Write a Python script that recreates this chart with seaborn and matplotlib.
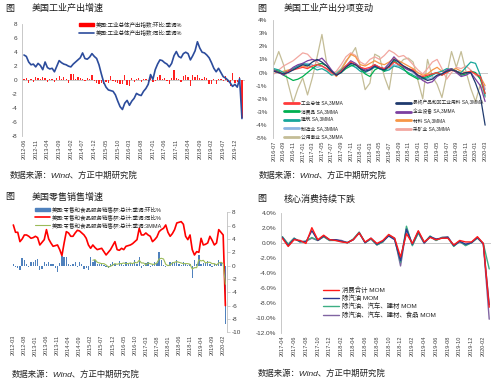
import numpy as np
import pandas as pd
import seaborn as sns
import matplotlib.pyplot as plt
from matplotlib.lines import Line2D
from matplotlib.patches import Patch

sns.set_style('white')
plt.rcParams['font.family'] = ['Liberation Sans', 'Noto Sans CJK SC']
plt.rcParams['axes.unicode_minus'] = False

### panel 1: industrial production, 2012-06 .. 2020-03
ip_start = '2012-06'
ip_mom = [0.1, 0.3, -0.4, 0.2, -0.2, 0.4, 0.3,
          0.1, 0.4, 0.3, -0.3, 0.1, 0.2, -0.2, 0.3, 0.6, 0.2, 0.5, 0.2,
          -0.4, 0.9, 0.9, 0.1, 0.4, 0.3, 0.2, -0.1, 0.3, 0.1, 0.8, -0.1,
          -0.4, -0.5, -0.4, -0.5, -0.3, -0.4, 0.6, -0.1, -0.3, -0.4, -0.6, -0.6,
          0.8, -0.7, -0.8, 0.3, -0.3, 0.2, 0.3, -0.2, 0.1, 0.1, -0.3, 0.8,
          -0.3, -0.1, 0.4, 0.8, 0.1, 0.3, -0.1, -0.6, 0.3, 1.4, 0.3, 0.2,
          -0.2, 0.6, 0.8, 0.5, -0.8, 0.8, 0.4, 0.7, 0.3, 0.2, 0.5, 0.3,
          -0.5, -0.5, 0.1, -0.6, 0.2, 0.1, -0.1, 0.6, -0.3, -0.8, 1.0, -0.4,
          -0.3, 0.5, -5.4]
ip_yoy = [3.6, 3.4, 2.6, 2.2, 2.3, 1.9, 2.4,
          2.1, 1.5, 2.6, 1.8, 1.6, 1.7, 1.2, 2.0, 2.8, 2.5, 2.3, 2.2,
          2.0, 1.9, 2.3, 2.6, 2.9, 3.2, 3.9, 3.1, 3.0, 3.3, 3.8, 3.4,
          3.1, 2.2, 0.9, -0.3, -1.0, -1.4, -1.5, -1.6, -2.1, -3.0, -3.8, -4.2,
          -3.3, -2.9, -3.6, -3.0, -2.6, -1.9, -2.1, -2.2, -1.6, -1.2, -0.6, 0.8,
          0.1, 1.5, 2.3, 2.9, 2.8, 2.5, 2.3, 1.9, 2.4, 3.5, 4.1, 3.4,
          3.2, 3.8, 4.0, 3.8, 2.9, 3.5, 4.2, 5.5, 4.6, 4.0, 3.9, 3.6,
          3.2, 2.5, 1.7, 1.2, 1.7, 1.1, 0.5, 0.3, 0.0, -0.4, -0.9, -0.6,
          -1.0, 0.2, -5.5]

### panel 2: industrial production components, SA 3MMA, 2016-07 .. 2020-03
comp_start = '2016-07'
comp_names = ['工业总体 SA,3MMA', '消费品 SA,3MMA', '建筑 SA,3MMA', '制造业 SA,3MMA',
              '公用事业 SA,3MMA', '最终产品和非工业用料 SA,3MMA', '企业设备 SA,3MMA',
              '材料 SA,3MMA', '采矿业 SA,3MMA']
comp_total = [0.1, 0.0, -0.1, 0.1, 0.2, 0.3, 0.4, 0.3, 0.5, 0.6, 0.5, 0.3, 0.0, -0.2, 0.1,
              0.5, 0.8, 0.6, 0.4, 0.3, 0.4, 0.6, 0.4, 0.3, 0.4, 0.8, 0.6, 0.5, 0.3, 0.2,
              -0.2, -0.3, -0.2, -0.1, 0.0, -0.2, 0.0, 0.2, 0.1, -0.1, 0.0, 0.1, -0.1, -0.3, -1.6]
comp_consumer = [0.2, 0.1, -0.2, -0.4, -0.6, -0.5, -0.3, 0.0, 0.3, 0.6, 0.7, 0.5, 0.1, -0.2, 0.0,
                 0.3, 0.5, 0.6, 0.3, -0.1, -0.3, 0.2, 0.4, 0.1, 0.5, 0.9, 0.6, 0.3, -0.1, -0.3,
                 -0.5, -0.4, -0.3, -0.1, 0.0, -0.2, 0.1, 0.3, 0.1, -0.2, -0.1, 0.1, 0.0, -0.5, -1.6]
comp_construction = [0.3, 0.2, 0.0, 0.1, 0.3, 0.5, 0.7, 0.6, 0.4, 0.2, 0.3, 0.1, -0.2, -0.1, 0.2,
                     0.5, 0.6, 0.4, 0.1, 0.0, 0.2, 0.4, 0.3, 0.1, 0.2, 0.5, 0.4, 0.2, 0.0, -0.2,
                     -0.4, -0.5, -0.4, -0.2, 0.0, 0.1, 0.3, 0.2, 0.1, 0.0, 0.4, 0.8, 0.7, -0.2, -1.8]
comp_manufacturing = [0.1, 0.0, -0.1, 0.1, 0.3, 0.5, 0.6, 0.7, 0.6, 0.4, 0.5, 0.3, 0.0, -0.2, 0.1,
                      0.4, 0.6, 0.4, 0.3, 0.1, 0.3, 0.5, 0.3, 0.2, 0.3, 0.6, 0.5, 0.4, 0.2, 0.0,
                      -0.3, -0.4, -0.5, -0.4, -0.2, -0.1, 0.0, 0.2, 0.1, -0.2, -0.1, 0.1, 0.0, -0.4, -1.3]
comp_utilities = [0.6, 1.6, 0.6, -0.9, -2.3, -1.2, -0.4, -1.7, -0.4, 1.2, 2.9, 0.7, -0.1, 0.0, 0.3,
                  0.9, 1.3, 1.9, 0.4, -1.3, -0.8, 1.4, 1.2, -0.3, -1.3, 1.0, 0.6, 1.0, 1.1, 0.8,
                  -0.6, -2.0, 1.0, -0.3, -0.9, -1.9, -0.2, 1.6, 0.4, 1.6, 0.1, -1.2, -2.2, -0.9, -1.9]
comp_final = [0.1, 0.0, -0.1, 0.0, 0.2, 0.4, 0.6, 0.5, 0.8, 1.0, 0.8, 0.5, 0.1, -0.2, 0.0,
              0.4, 0.7, 0.6, 0.3, 0.1, 0.2, 0.5, 0.3, 0.2, 0.5, 1.0, 0.8, 0.5, 0.3, 0.1,
              -0.2, -0.4, -0.6, -0.5, -0.2, -0.1, 0.1, 0.2, 0.1, -0.1, 0.0, 0.0, -0.8, -1.8, -4.0]
comp_equipment = [0.2, 0.0, -0.2, 0.1, 0.4, 0.6, 0.7, 0.9, 1.0, 0.9, 1.1, 0.7, 0.2, -0.2, 0.1,
                  0.5, 0.9, 0.7, 0.4, 0.2, 0.3, 0.6, 0.4, 0.3, 0.7, 1.2, 0.8, 0.4, 0.2, 0.1,
                  -0.3, -0.6, -0.8, -0.7, -0.3, -0.1, 0.2, 0.3, 0.0, -0.3, -0.2, 0.0, -0.5, -1.0, -2.2]
comp_materials = [0.1, 0.0, 0.1, 0.2, 0.3, 0.4, 0.5, 0.4, 0.5, 0.6, 0.7, 0.5, 0.1, -0.3, 0.2,
                  0.8, 1.4, 1.2, 0.6, 0.5, 0.7, 0.9, 0.7, 0.6, 0.8, 1.1, 0.9, 0.7, 0.5, 0.3,
                  0.0, -0.2, -0.1, 0.2, 0.4, 0.1, 0.0, 0.2, 0.3, 0.1, 0.0, 0.1, -0.1, -0.3, -1.0]
comp_mining = [-0.1, 0.2, 0.5, 0.7, 0.9, 1.2, 1.5, 1.4, 1.0, 0.8, 0.5, 0.2, -0.1, 0.1, 0.6,
               1.2, 1.5, 1.3, 0.8, 0.6, 1.0, 1.2, 1.0, 1.3, 1.7, 1.5, 1.2, 1.3, 1.0, 0.6,
               0.2, -0.1, 0.3, 0.8, 1.0, 0.3, -0.5, 0.0, 0.4, 0.3, 0.5, 0.2, -0.2, -0.4, -1.2]
comp_colors = ['#FF3B3B', '#00B050', '#17A69A', '#8DB4E2', '#C4BD97',
               '#1F3A6E', '#7B3FA0', '#F79646', '#F2A7A0']

### panel 3: retail sales, 2012-03 .. 2020-03
rs_start = '2012-03'
rs_mom = [0.3, -0.2, -0.3, -0.7, 1.2, 0.8, 0.3, -0.2, 0.6, 0.5,
          0.9, 1.0, -0.6, -0.5, 0.5, 0.3, 0.6, 0.3, 0.2, -0.4,
          -0.9, 0.4, 1.5, 1.3, 1.3, 0.2, 0.1, 0.3, 0.5, -0.2,
          0.6, 0.3, -0.5, -0.4, -0.7, 1.3, 0.6, 0.8, 0.2, 0.3,
          0.4, 0.1, -0.2, -0.4, 0.3, 0.5, 0.2, -0.1, 0.7, 0.3,
          0.1, 0.5, 0.2, 0.4, 0.2, 0.8, 0.2, 1.3, -0.3, 0.1,
          0.4, 0.6, -0.2, 0.3, 0.5, 0.4, 2.0, 0.8, 0.1, -0.2,
          0.1, 0.5, 0.6, 0.4, 0.9, 0.2, 0.1, 0.6, 0.3, 0.1,
          0.2, -1.9, 0.8, 0.2, 1.6, 0.3, 0.4, 0.4, 0.7, 0.3,
          -0.2, 0.3, 0.2, 0.8, 0.6, -0.4, -8.7]
rs_yoy = [6.1, 5.0, 5.0, 3.6, 4.0, 4.6, 4.6, 4.4, 4.1, 4.2,
          4.4, 4.2, 3.1, 3.5, 3.9, 5.4, 4.0, 3.4, 2.9, 3.0,
          3.1, 2.4, 1.5, 3.4, 5.1, 4.9, 4.4, 4.4, 4.9, 5.3,
          5.2, 4.9, 4.6, 4.1, 3.1, 2.6, 3.1, 2.7, 2.4, 2.5,
          2.6, 2.1, 1.6, 2.0, 2.4, 3.0, 3.6, 2.4, 2.3, 2.6,
          2.4, 2.9, 3.0, 3.1, 3.3, 3.6, 3.9, 5.6, 4.6, 4.6,
          4.9, 4.6, 4.4, 3.6, 3.9, 4.3, 5.1, 5.4, 5.6, 6.1,
          5.0, 4.4, 4.8, 5.4, 6.4, 6.5, 6.6, 6.2, 4.4, 3.9,
          4.6, 2.4, 1.6, 2.1, 2.0, 4.1, 3.1, 3.2, 3.4, 4.4,
          3.8, 3.1, 3.4, 5.4, 5.0, 4.6, -6.0]
rs_3mma = [np.nan] * 36 + [
          0.8, 0.9, 0.5, 0.4, 0.3, 0.3, 0.1, -0.2, -0.1, 0.1,
          0.3, 0.2, 0.3, 0.3, 0.4, 0.3, 0.3, 0.4, 0.3, 0.5,
          0.4, 0.8, 0.4, 0.4, 0.1, 0.4, 0.3, 0.2, 0.2, 0.4,
          1.0, 1.1, 1.0, 0.2, 0.0, 0.1, 0.4, 0.5, 0.6, 0.5,
          0.4, 0.3, 0.3, 0.3, 0.2, -0.5, -0.3, -0.3, 0.9, 0.7,
          0.8, 0.4, 0.5, 0.5, 0.3, 0.3, 0.1, 0.4, 0.5, 0.3, -2.8]

### panel 4: core consumption MoM, 2017-04 .. 2020-03
cc_start = '2017-04'
cc_total = [0.6, -0.5, 0.4, 0.3, -0.1, 2.0, 0.4, 1.0, 0.4, 0.3, 0.1, 0.0,
            0.4, 1.3, 0.1, 0.6, -0.1, 0.3, 1.1, 0.6, -1.9, 1.2, -0.1, 1.6,
            0.1, 0.7, 0.4, 0.6, 0.6, -0.3, 0.3, 0.1, 0.1, 0.8, -0.1, -8.6]
cc_ex_gas = [0.7, -0.4, 0.5, 0.2, 0.1, 1.6, 0.3, 0.9, 0.4, 0.4, 0.2, 0.0,
             0.4, 1.3, 0.0, 0.6, -0.2, 0.2, 0.9, 0.4, -2.4, 1.8, -0.2, 1.5,
             0.0, 0.8, 0.5, 0.6, 0.7, -0.4, 0.2, -0.2, 0.0, 0.7, -0.2, -8.3]
cc_ex_gas_auto_bm = [0.8, -0.2, 0.6, 0.1, 0.2, 0.7, 0.3, 0.8, 0.3, 0.3, 0.2, 0.0,
                     0.5, 1.4, 0.0, 0.5, -0.3, 0.1, 1.0, 0.5, -2.6, 2.2, -0.4, 1.3,
                     0.0, 0.9, 0.3, 0.7, 0.7, -0.5, 0.2, -0.4, 0.0, 0.6, -0.1, -3.5]
cc_ex_gas_auto_bm_food = [0.8, -0.2, 0.6, 0.1, 0.2, 0.6, 0.3, 0.8, 0.3, 0.4, 0.3, 0.0,
                          0.4, 1.4, 0.0, 0.5, -0.3, 0.1, 1.0, 0.6, -3.1, 1.9, -0.3, 1.3,
                          -0.1, 0.8, 0.3, 0.7, 0.8, -0.4, 0.1, -0.3, 0.0, 0.7, -0.1, -10.2]
cc_names = ['消费合计 MOM', '除汽油 MOM', '除汽油、汽车、建材 MOM', '除汽油、汽车、建材、食品 MOM']
cc_colors = ['#FF1A1A', '#2B3990', '#3DAE84', '#8064A2']

SOURCE = '数据来源：Wind、方正中期研究院'
W, H = 500, 388
GRID = '#BFBFBF'
TXT = '#404040'


def months(start, n):
    return [p.strftime('%Y-%m') for p in pd.period_range(start, periods=n, freq='M')]


def box(x0, y0, x1, y1):
    # pixel box (top-left origin) -> figure fraction
    return [x0 / W, 1 - y1 / H, (x1 - x0) / W, (y1 - y0) / H]


def style_axes(ax, labels, step, fs=4):
    ax.set_xticks(range(0, len(labels), step))
    ax.set_xticklabels(labels[::step], rotation=90, fontsize=fs, color=TXT)
    ax.tick_params(axis='x', length=0, pad=2)
    ax.tick_params(axis='y', labelsize=4.6, colors=TXT, length=2, width=0.5, color=GRID, pad=1.5)
    ax.set_xlabel('')
    ax.set_ylabel('')
    for s in ax.spines.values():
        s.set_visible(False)
    ax.set_facecolor('none')


def header(x, y, title):
    fig.text(x / W, 1 - y / H, '图', fontsize=6.5, color='#1a1a1a', va='center')
    fig.text((x + 27) / W, 1 - y / H, title, fontsize=6.5, color='#1a1a1a', va='center')


def source(x, y):
    fig.text(x / W, 1 - y / H, SOURCE, fontsize=6, color='#262626', va='center', style='italic')


fig = plt.figure(figsize=(5, 3.88), dpi=100)

# ---------- panel 1
ax1 = fig.add_axes(box(22, 24.3, 245, 136))
n1 = len(ip_yoy)
df1 = pd.DataFrame({'t': np.arange(n1), 'mom': ip_mom, 'yoy': ip_yoy})
sns.barplot(data=df1, x='t', y='mom', native_scale=True, color='#FF2020', saturation=1,
            width=0.55, errorbar=None, linewidth=0, ax=ax1)
sns.lineplot(data=df1, x='t', y='yoy', color='#2C4C9C', linewidth=1.2, ax=ax1)
ax1.axhline(0, color=GRID, lw=0.6, zorder=0)
style_axes(ax1, months(ip_start, n1), 5)
ax1.spines['left'].set_visible(True)
ax1.spines['left'].set_color(GRID)
ax1.spines['left'].set_linewidth(0.6)
ax1.set_xlim(-0.85, 94.3)
ax1.set_ylim(-8, 8)
ax1.set_yticks(range(-8, 9, 2))
ax1.legend([Patch(color='#FF0000'), Line2D([], [], color='#2C4C9C', lw=1.2)],
           ['美国:工业总体产出指数:环比:季调%', '美国:工业总体产出指数:同比:季调%'],
           loc='upper left', bbox_to_anchor=(0.24, 1.06), fontsize=4, frameon=False,
           handlelength=2.6, handleheight=0.5, labelspacing=0.45, handletextpad=0.3,
           borderpad=0.2)
header(5, 8, '美国工业产出增速')
source(10, 176)

# ---------- panel 2
ax2 = fig.add_axes(box(272.5, 20, 488, 138.3))
series2 = [comp_total, comp_consumer, comp_construction, comp_manufacturing, comp_utilities,
           comp_final, comp_equipment, comp_materials, comp_mining]
n2 = len(comp_total)
draw_order = [4, 8, 7, 3, 2, 1, 6, 0, 5]
for i in draw_order:
    sns.lineplot(x=np.arange(n2), y=series2[i], color=comp_colors[i], linewidth=0.9, ax=ax2)
ax2.axhline(0, color=GRID, lw=0.6, zorder=0)
style_axes(ax2, months(comp_start, n2), 2)
ax2.spines['left'].set_visible(True)
ax2.spines['left'].set_color(GRID)
ax2.spines['left'].set_linewidth(0.6)
ax2.set_xlim(-0.3, 44.6)
ax2.set_ylim(-5, 4)
ax2.set_yticks(range(-5, 5))
ax2.set_yticklabels([f'{v}%' for v in range(-5, 5)])
ax2.legend([Line2D([], [], color=c, lw=2) for c in comp_colors], comp_names,
           ncol=2, mode='expand', loc='lower left', bbox_to_anchor=(0.04, -0.035, 0.95, 0.36),
           fontsize=3.4, frameon=False, handlelength=3.2, labelspacing=0.75,
           handletextpad=0.4, borderpad=0.1)
header(257, 8, '美国工业产出分项变动')
source(259, 176)

# ---------- panel 3
ax3 = fig.add_axes(box(12, 212.3, 226.7, 332.3))
n3 = len(rs_yoy)
df3 = pd.DataFrame({'t': np.arange(n3), 'mom': rs_mom, 'yoy': rs_yoy, 'mma': rs_3mma})
sns.barplot(data=df3, x='t', y='mom', native_scale=True, color='#4F81BD', saturation=1,
            width=0.6, errorbar=None, linewidth=0, ax=ax3)
sns.lineplot(data=df3, x='t', y='yoy', color='#FF0000', linewidth=1.2, ax=ax3)
sns.lineplot(data=df3, x='t', y='mma', color='#9BBB59', linewidth=0.8, ax=ax3)
style_axes(ax3, months(rs_start, n3), 5)
ax3.yaxis.tick_right()
ax3.spines['right'].set_visible(True)
ax3.spines['right'].set_color(GRID)
ax3.spines['right'].set_linewidth(0.6)
ax3.set_xlim(-0.6, 96.6)
ax3.set_ylim(-10, 8)
ax3.set_yticks(range(-10, 9, 2))
ax3.legend([Patch(color='#4F81BD'), Line2D([], [], color='#FF0000', lw=1.2),
            Line2D([], [], color='#9BBB59', lw=0.8)],
           ['美国:零售和食品服务销售额:总计:季调:环比%', '美国:零售和食品服务销售额:总计:季调:同比%',
            '美国:零售和食品服务销售额:总计:季调:3MMA'],
           loc='upper left', bbox_to_anchor=(0.09, 1.08), fontsize=4, frameon=False,
           handlelength=2.6, handleheight=0.5, labelspacing=0.35, handletextpad=0.3,
           borderpad=0.2)
header(5, 197, '美国零售销售增速')
source(12, 375)

# ---------- panel 4
ax4 = fig.add_axes(box(281, 212.7, 491, 332.7))
series4 = [cc_total, cc_ex_gas, cc_ex_gas_auto_bm, cc_ex_gas_auto_bm_food]
n4 = len(cc_total)
for i in [3, 2, 1, 0]:
    sns.lineplot(x=np.arange(n4), y=series4[i], color=cc_colors[i], linewidth=1.0, ax=ax4)
ax4.axhline(0, color=GRID, lw=0.6, zorder=0)
style_axes(ax4, months(cc_start, n4), 2)
ax4.spines['left'].set_visible(True)
ax4.spines['left'].set_color(GRID)
ax4.spines['left'].set_linewidth(0.6)
ax4.set_xlim(-0.22, 35.3)
ax4.set_ylim(-12, 4)
ax4.set_yticks(range(-12, 5, 2))
ax4.set_yticklabels([f'{v:.1f}%' for v in range(-12, 5, 2)])
ax4.legend([Line2D([], [], color=c, lw=1.0) for c in cc_colors], cc_names,
           loc='upper left', bbox_to_anchor=(0.18, 0.42), fontsize=4.6, frameon=False,
           handlelength=2.6, labelspacing=0.25, handletextpad=0.4, borderpad=0.1)
header(257, 199, '核心消费持续下跌')
source(258, 374)

fig.savefig('out.png', dpi=100)
